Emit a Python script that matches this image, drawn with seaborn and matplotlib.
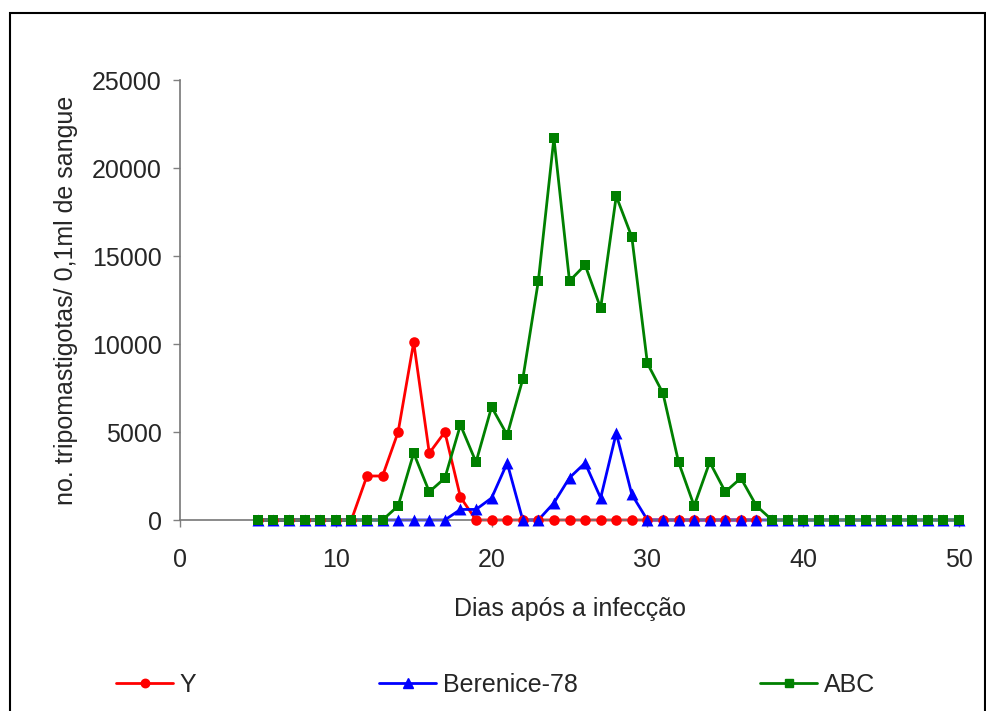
import numpy as np
import pandas as pd
import matplotlib
matplotlib.use("Agg")
import matplotlib.pyplot as plt
from matplotlib.lines import Line2D
from matplotlib.patches import Rectangle
import seaborn as sns

# Parasitaemia per strain (trypomastigotes / 0.1 ml blood)
days_y = list(range(5, 38))
y_strain = [0, 0, 0, 0, 0, 0, 0, 2500, 2500, 5000, 10100, 3800, 5000, 1300,
            0, 0, 0, 0, 0, 0, 0, 0, 0, 0, 0, 0, 0, 0, 0, 0, 0, 0, 0]

days_ber = list(range(5, 51))
berenice = [0, 0, 0, 0, 0, 0, 0, 0, 0, 0, 0, 0, 0, 600, 600, 1250, 3240, 0, 0,
            970, 2400, 3240, 1250, 4940, 1450, 0, 0, 0, 0, 0, 0, 0, 0,
            0, 0, 0, 0, 0, 0, 0, 0, 0, 0, 0, 0, 0]

days_abc = list(range(5, 51))
abc = [0, 0, 0, 0, 0, 0, 0, 0, 0, 800, 3800, 1600, 2380, 5400, 3290, 6420,
       4830, 8000, 13580, 21700, 13580, 14490, 12040, 18400, 16080, 8900,
       7200, 3290, 800, 3290, 1600, 2380, 800, 0, 0, 0, 0, 0, 0, 0, 0, 0,
       0, 0, 0, 0]

series_names = ["Y", "Berenice-78", "ABC"]
colors = {"Y": "#FF0000", "Berenice-78": "#0000FF", "ABC": "#008000"}
markers = {"Y": "o", "Berenice-78": "^", "ABC": "s"}
msizes = {"Y": 7.6, "Berenice-78": 8.6, "ABC": 7.0}   # marker sizes in points

x_ticks = [0, 10, 20, 30, 40, 50]
y_ticks = [0, 5000, 10000, 15000, 20000, 25000]

df = pd.concat([
    pd.DataFrame({"dia": days_y, "valor": y_strain, "cepa": "Y"}),
    pd.DataFrame({"dia": days_ber, "valor": berenice, "cepa": "Berenice-78"}),
    pd.DataFrame({"dia": days_abc, "valor": abc, "cepa": "ABC"}),
], ignore_index=True)

sns.set_theme(style="white")
plt.rcParams["font.family"] = ["Liberation Sans", "DejaVu Sans"]
FS = 18

fig = plt.figure(figsize=(9.87, 7.11), dpi=100)
ax = fig.add_axes([180 / 987, 1 - 520 / 711, (959 - 180) / 987, (520 - 80) / 711])

# connecting lines (below the axis line)
sns.lineplot(data=df, x="dia", y="valor", hue="cepa", hue_order=series_names,
             palette=colors, linewidth=2.0, legend=False, ax=ax, zorder=2)
for ln in ax.lines:
    ln.set_clip_on(False)
# markers on top of the axis line, not clipped at the axis edge
for name in series_names:
    sub = df[df["cepa"] == name]
    sns.scatterplot(data=sub, x="dia", y="valor", color=colors[name],
                    marker=markers[name], s=msizes[name] ** 2,
                    linewidth=0, legend=False, ax=ax, zorder=3, clip_on=False)

ax.set_xlim(0, 50)
ax.set_ylim(0, 25000)
ax.set_xticks(x_ticks)
ax.set_yticks(y_ticks)
ax.set_xticklabels([str(v) for v in x_ticks], fontsize=FS)
ax.set_yticklabels([str(v) for v in y_ticks], fontsize=FS)
ax.tick_params(axis="x", direction="out", length=5, width=1, color="#808080",
               pad=15, bottom=True)
ax.tick_params(axis="y", direction="out", length=5, width=1, color="#808080",
               pad=8, left=True)
for side in ["top", "right"]:
    ax.spines[side].set_visible(False)
for side in ["left", "bottom"]:
    ax.spines[side].set_color("#777777")
    ax.spines[side].set_linewidth(1.2)
    ax.spines[side].set_zorder(2.5)

ax.set_xlabel("Dias após a infecção", fontsize=FS, labelpad=18)
ax.set_ylabel("no. tripomastigotas/ 0,1ml de sangue", fontsize=FS, labelpad=10)

handles = [Line2D([0], [0], color=colors[n], marker=markers[n], lw=2.0,
                  markersize=msizes[n] * 0.8) for n in series_names]
fig.legend(handles, series_names, loc="center", ncol=3,
           bbox_to_anchor=(0.502, 1 - 685 / 711), frameon=False, fontsize=FS,
           handlelength=2.3, handletextpad=0.25, columnspacing=7.3)

# outer frame of the figure
fig.patches.append(Rectangle((10 / 987, -0.05), (985 - 10) / 987, 1.05 - 13 / 711,
                             transform=fig.transFigure, fill=False,
                             edgecolor="black", linewidth=1.5))

fig.savefig("out.png", dpi=100)
